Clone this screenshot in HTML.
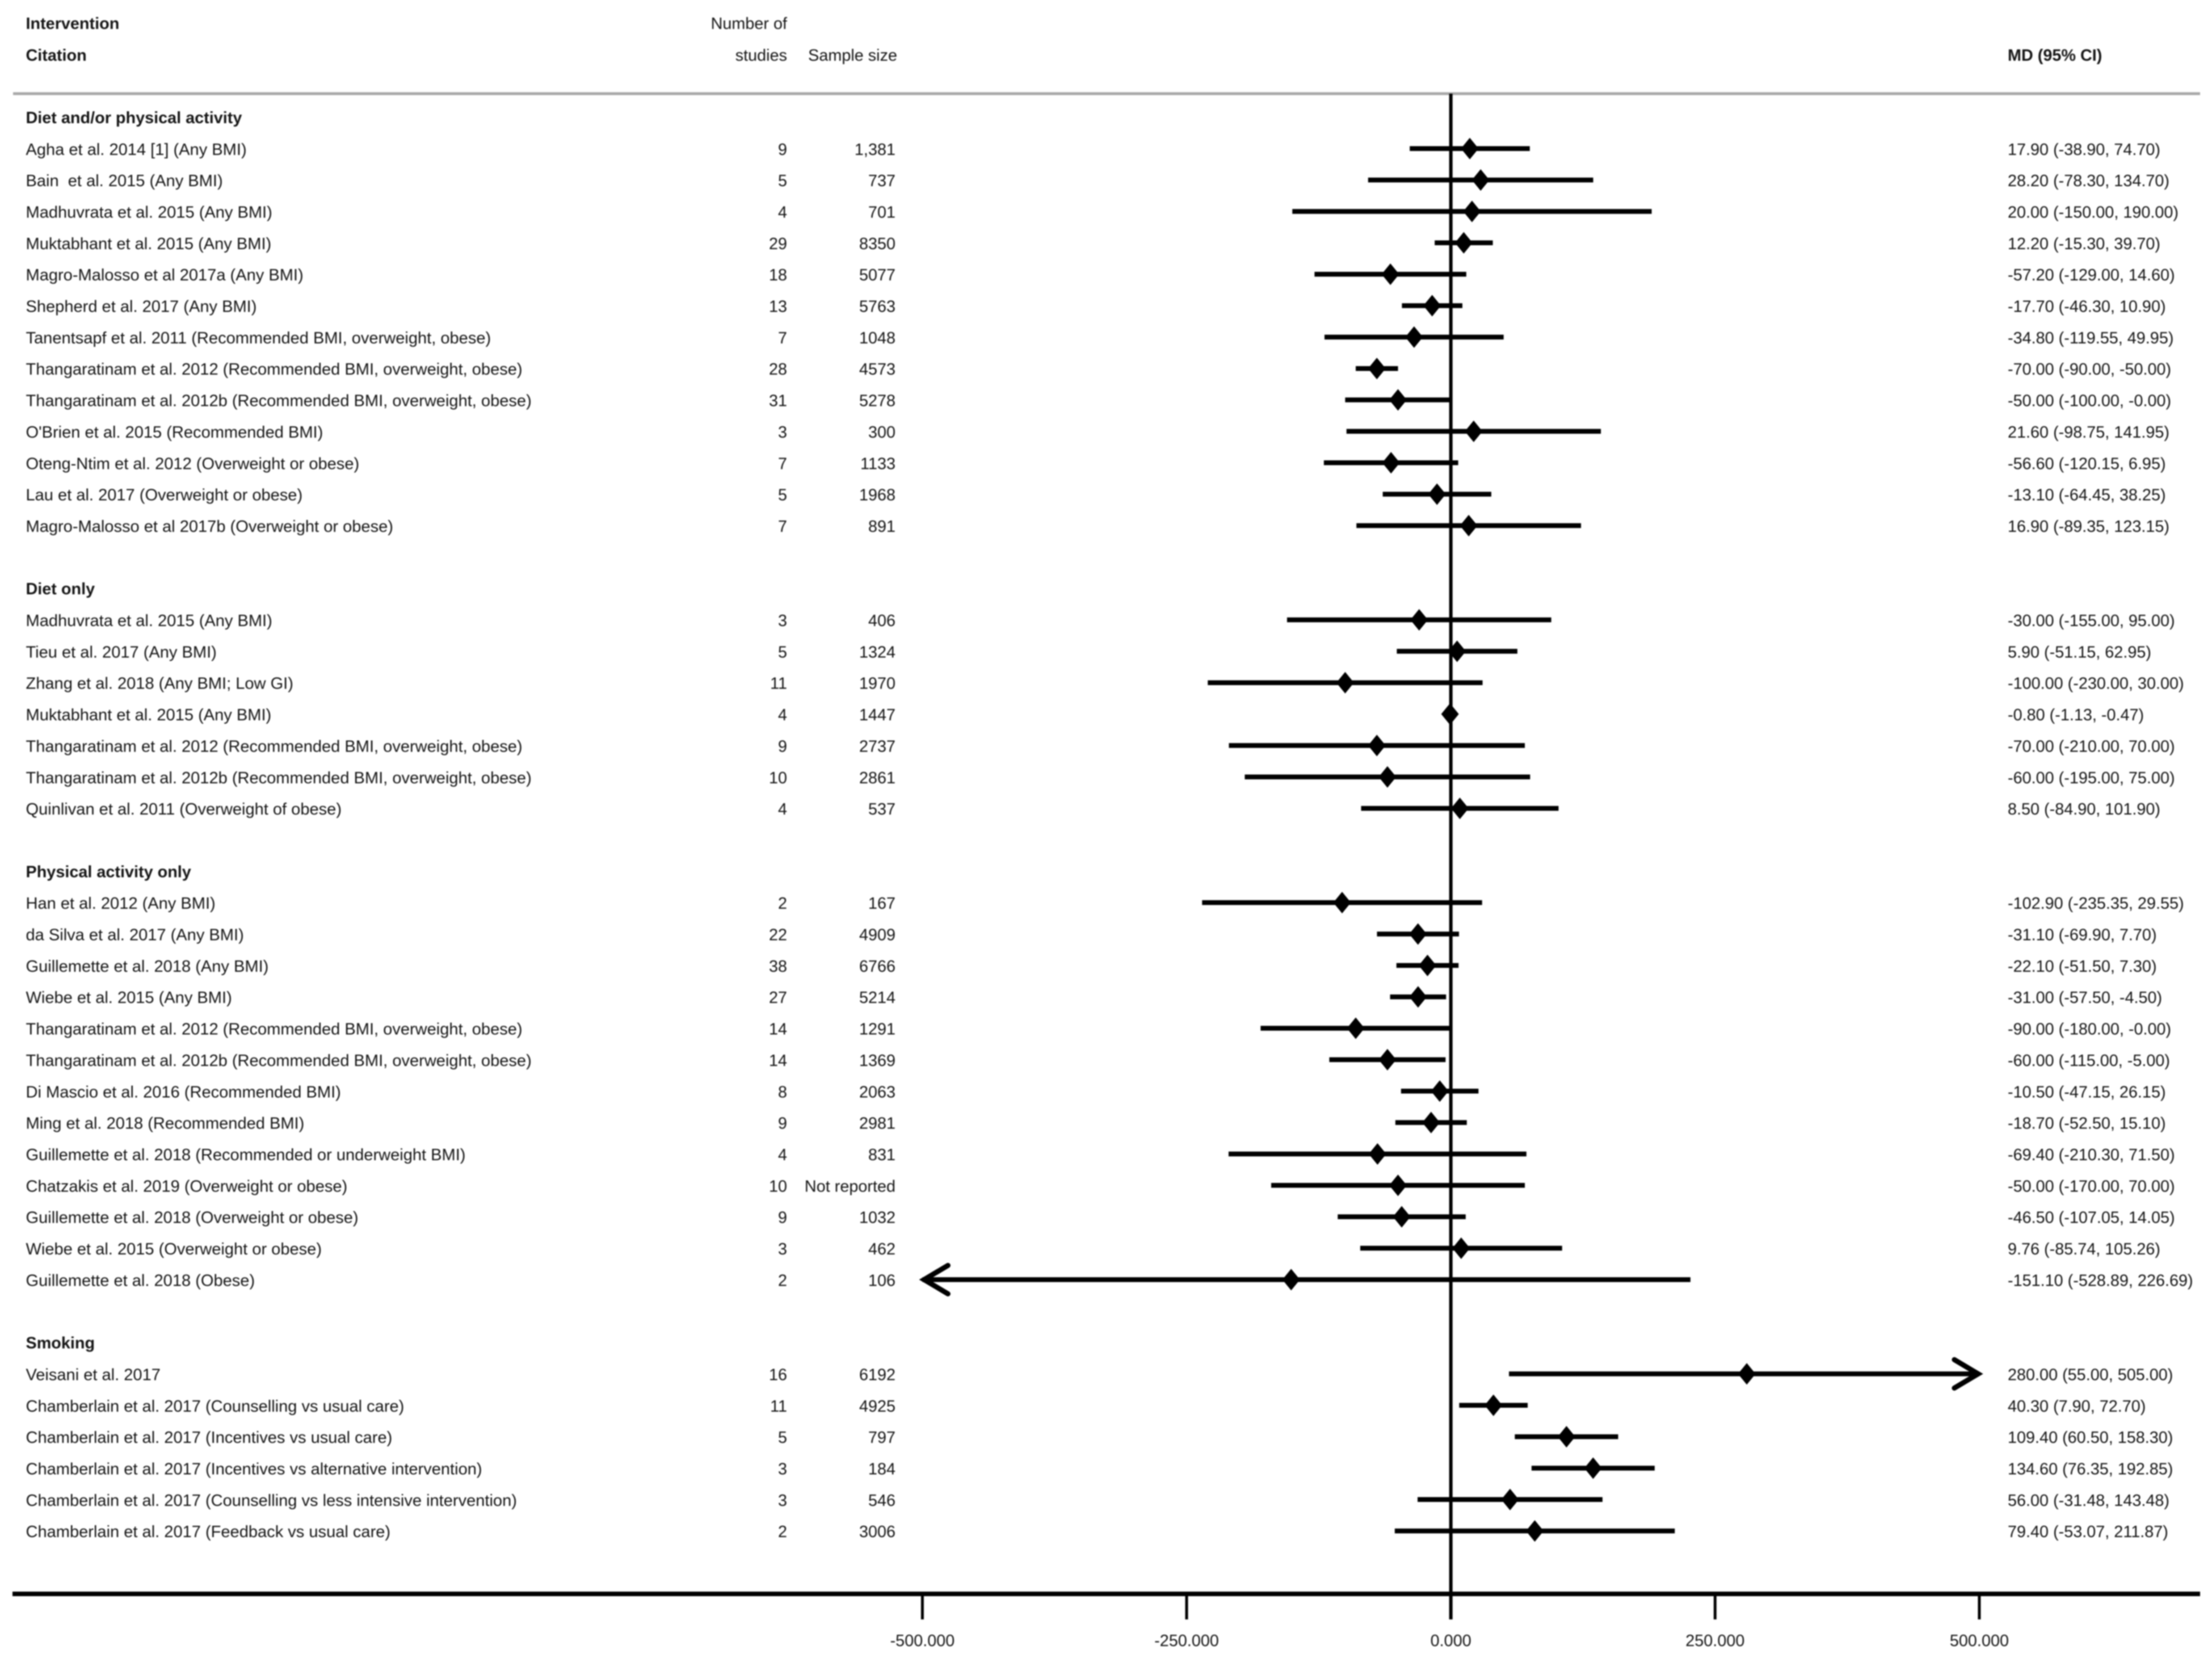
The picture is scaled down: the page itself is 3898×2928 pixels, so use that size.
<!DOCTYPE html>
<html lang="en">
<head>
<meta charset="utf-8">
<title>Forest plot of mean difference by intervention</title>
<style>
html,body{margin:0;padding:0;background:#fff;}
body{width:3898px;height:2928px;overflow:hidden;}
svg{display:block;filter:blur(1px);}
text{font-family:"Liberation Sans",Arial,sans-serif;font-size:28.8px;fill:#151515;white-space:pre;}
.b{font-weight:bold;}
.c{font-size:29.05px;}
</style>
</head>
<body>
<svg id="chart" xmlns="http://www.w3.org/2000/svg" width="3898" height="2928" viewBox="0 0 3898 2928"></svg>
<script>
const sectionNames = ["Diet and/or physical activity","Diet only","Physical activity only","Smoking"];
const sectionSizes = [13,7,13,6];
const citations = [
"Agha et al. 2014 [1] (Any BMI)","Bain  et al. 2015 (Any BMI)","Madhuvrata et al. 2015 (Any BMI)","Muktabhant et al. 2015 (Any BMI)","Magro-Malosso et al 2017a (Any BMI)","Shepherd et al. 2017 (Any BMI)","Tanentsapf et al. 2011 (Recommended BMI, overweight, obese)","Thangaratinam et al. 2012 (Recommended BMI, overweight, obese)","Thangaratinam et al. 2012b (Recommended BMI, overweight, obese)","O'Brien et al. 2015 (Recommended BMI)","Oteng-Ntim et al. 2012 (Overweight or obese)","Lau et al. 2017 (Overweight or obese)","Magro-Malosso et al 2017b (Overweight or obese)",
"Madhuvrata et al. 2015 (Any BMI)","Tieu et al. 2017 (Any BMI)","Zhang et al. 2018 (Any BMI; Low GI)","Muktabhant et al. 2015 (Any BMI)","Thangaratinam et al. 2012 (Recommended BMI, overweight, obese)","Thangaratinam et al. 2012b (Recommended BMI, overweight, obese)","Quinlivan et al. 2011 (Overweight of obese)",
"Han et al. 2012 (Any BMI)","da Silva et al. 2017 (Any BMI)","Guillemette et al. 2018 (Any BMI)","Wiebe et al. 2015 (Any BMI)","Thangaratinam et al. 2012 (Recommended BMI, overweight, obese)","Thangaratinam et al. 2012b (Recommended BMI, overweight, obese)","Di Mascio et al. 2016 (Recommended BMI)","Ming et al. 2018 (Recommended BMI)","Guillemette et al. 2018 (Recommended or underweight BMI)","Chatzakis et al. 2019 (Overweight or obese)","Guillemette et al. 2018 (Overweight or obese)","Wiebe et al. 2015 (Overweight or obese)","Guillemette et al. 2018 (Obese)",
"Veisani et al. 2017","Chamberlain et al. 2017 (Counselling vs usual care)","Chamberlain et al. 2017 (Incentives vs usual care)","Chamberlain et al. 2017 (Incentives vs alternative intervention)","Chamberlain et al. 2017 (Counselling vs less intensive intervention)","Chamberlain et al. 2017 (Feedback vs usual care)"];
const studyCounts = [9,5,4,29,18,13,7,28,31,3,7,5,7, 3,5,11,4,9,10,4, 2,22,38,27,14,14,8,9,4,10,9,3,2, 16,11,5,3,3,2];
const sampleSizes = ["1,381","737","701","8350","5077","5763","1048","4573","5278","300","1133","1968","891",
"406","1324","1970","1447","2737","2861","537",
"167","4909","6766","5214","1291","1369","2063","2981","831","Not reported","1032","462","106",
"6192","4925","797","184","546","3006"];
const meanDiffs = [17.90,28.20,20.00,12.20,-57.20,-17.70,-34.80,-70.00,-50.00,21.60,-56.60,-13.10,16.90,
-30.00,5.90,-100.00,-0.80,-70.00,-60.00,8.50,
-102.90,-31.10,-22.10,-31.00,-90.00,-60.00,-10.50,-18.70,-69.40,-50.00,-46.50,9.76,-151.10,
280.00,40.30,109.40,134.60,56.00,79.40];
const ciLower = [-38.90,-78.30,-150.00,-15.30,-129.00,-46.30,-119.55,-90.00,-100.00,-98.75,-120.15,-64.45,-89.35,
-155.00,-51.15,-230.00,-1.13,-210.00,-195.00,-84.90,
-235.35,-69.90,-51.50,-57.50,-180.00,-115.00,-47.15,-52.50,-210.30,-170.00,-107.05,-85.74,-528.89,
55.00,7.90,60.50,76.35,-31.48,-53.07];
const ciUpper = [74.70,134.70,190.00,39.70,14.60,10.90,49.95,-50.00,-0.00,141.95,6.95,38.25,123.15,
95.00,62.95,30.00,-0.47,70.00,75.00,101.90,
29.55,7.70,7.30,-4.50,-0.00,-5.00,26.15,15.10,71.50,70.00,14.05,105.26,226.69,
505.00,72.70,158.30,192.85,143.48,211.87];
const ciLabels = ["17.90 (-38.90, 74.70)","28.20 (-78.30, 134.70)","20.00 (-150.00, 190.00)","12.20 (-15.30, 39.70)","-57.20 (-129.00, 14.60)","-17.70 (-46.30, 10.90)","-34.80 (-119.55, 49.95)","-70.00 (-90.00, -50.00)","-50.00 (-100.00, -0.00)","21.60 (-98.75, 141.95)","-56.60 (-120.15, 6.95)","-13.10 (-64.45, 38.25)","16.90 (-89.35, 123.15)",
"-30.00 (-155.00, 95.00)","5.90 (-51.15, 62.95)","-100.00 (-230.00, 30.00)","-0.80 (-1.13, -0.47)","-70.00 (-210.00, 70.00)","-60.00 (-195.00, 75.00)","8.50 (-84.90, 101.90)",
"-102.90 (-235.35, 29.55)","-31.10 (-69.90, 7.70)","-22.10 (-51.50, 7.30)","-31.00 (-57.50, -4.50)","-90.00 (-180.00, -0.00)","-60.00 (-115.00, -5.00)","-10.50 (-47.15, 26.15)","-18.70 (-52.50, 15.10)","-69.40 (-210.30, 71.50)","-50.00 (-170.00, 70.00)","-46.50 (-107.05, 14.05)","9.76 (-85.74, 105.26)","-151.10 (-528.89, 226.69)",
"280.00 (55.00, 505.00)","40.30 (7.90, 72.70)","109.40 (60.50, 158.30)","134.60 (76.35, 192.85)","56.00 (-31.48, 143.48)","79.40 (-53.07, 211.87)"];
const tickValues = [-500,-250,0,250,500];
const tickLabels = ["-500.000","-250.000","0.000","250.000","500.000"];
const axisMin = -500;
const axisMax = 500;

const svg = document.getElementById('chart');
const NS = 'http://www.w3.org/2000/svg';
const xAxis = v => 2556.7 + v * 1.8625;
const yRow = k => 206.4 + 55.35 * k;
const TEXT_DY = 11;
const AXIS_Y = 2808;
const TICK_BOTTOM = 2853;

function mk(tag, attrs, parent) {
  const el = document.createElementNS(NS, tag);
  for (const key in attrs) el.setAttribute(key, attrs[key]);
  (parent || svg).appendChild(el);
  return el;
}
function label(str, x, y, anchor, cls, parent) {
  const t = mk('text', {x: x, y: y, 'text-anchor': anchor || 'start'}, parent);
  if (cls) t.setAttribute('class', cls);
  t.textContent = str;
  return t;
}

/* column headers */
let h;
h = label('Intervention', 45.5, 51, 'start', 'b');


h = label('Citation', 45.5, 107, 'start', 'b');


h = label('Number of', 1387, 51, 'end');


h = label('studies', 1387, 107, 'end');


h = label('Sample size', 1581, 107, 'end');


h = label('MD (95% CI)', 3538, 107, 'start', 'b');



/* rules */
const headerRule = mk('line', {x1: 23, x2: 3877, y1: 165, y2: 165, stroke: '#a8a8a8', 'stroke-width': 5});



const nullLine = mk('line', {x1: xAxis(0), x2: xAxis(0), y1: 165, y2: TICK_BOTTOM, stroke: '#000', 'stroke-width': 6});



const axisLine = mk('line', {x1: 22, x2: 3877, y1: AXIS_Y, y2: AXIS_Y, stroke: '#000', 'stroke-width': 8});



tickValues.forEach((v, i) => {
  const tick = mk('line', {x1: xAxis(v), x2: xAxis(v), y1: AXIS_Y, y2: TICK_BOTTOM, stroke: '#000', 'stroke-width': 5});
  
  
  const tl = label(tickLabels[i], xAxis(v), 2900, 'middle');
  
  
});

/* rows */
let row = 0, study = 0;
sectionNames.forEach((name, s) => {
  const st = label(name, 45.5, yRow(row) + TEXT_DY - 0.5, 'start', 'b');
  
  
  row++;
  for (let j = 0; j < sectionSizes[s]; j++, row++, study++) {
    const y = yRow(row);
    const g = mk('g', {});
    
    

    const c1 = label(citations[study], 45.5, y + TEXT_DY, 'start', 'c', g);
    
    
    const c2 = label(String(studyCounts[study]), 1387, y + TEXT_DY, 'end', '', g);
    
    
    const c3 = label(sampleSizes[study], 1578, y + TEXT_DY, 'end', '', g);
    
    
    const c4 = label(ciLabels[study], 3538, y + TEXT_DY, 'start', '', g);
    
    

    const lo = Math.max(ciLower[study], axisMin);
    const hi = Math.min(ciUpper[study], axisMax);
    const ci = mk('line', {x1: xAxis(lo), x2: xAxis(hi), y1: y, y2: y, stroke: '#000', 'stroke-width': 8.5}, g);
    
    

    if (ciLower[study] < axisMin) {
      const ax = xAxis(axisMin) + 3;
      const al = mk('polyline', {points: (ax + 42) + ',' + (y - 25) + ' ' + ax + ',' + y + ' ' + (ax + 42) + ',' + (y + 25), fill: 'none', stroke: '#000', 'stroke-width': 9, 'stroke-linecap': 'round'}, g);
      
      
    }
    if (ciUpper[study] > axisMax) {
      const ax = xAxis(axisMax) - 2;
      const ar = mk('polyline', {points: (ax - 42) + ',' + (y - 25) + ' ' + ax + ',' + y + ' ' + (ax - 42) + ',' + (y + 25), fill: 'none', stroke: '#000', 'stroke-width': 9, 'stroke-linecap': 'round'}, g);
      
      
    }

    const mx = xAxis(meanDiffs[study]);
    const d = mk('polygon', {points: (mx - 15.5) + ',' + y + ' ' + mx + ',' + (y - 19) + ' ' + (mx + 15.5) + ',' + y + ' ' + mx + ',' + (y + 19), fill: '#000'}, g);
    
    
  }
  row++;
});
</script>
</body>
</html>
